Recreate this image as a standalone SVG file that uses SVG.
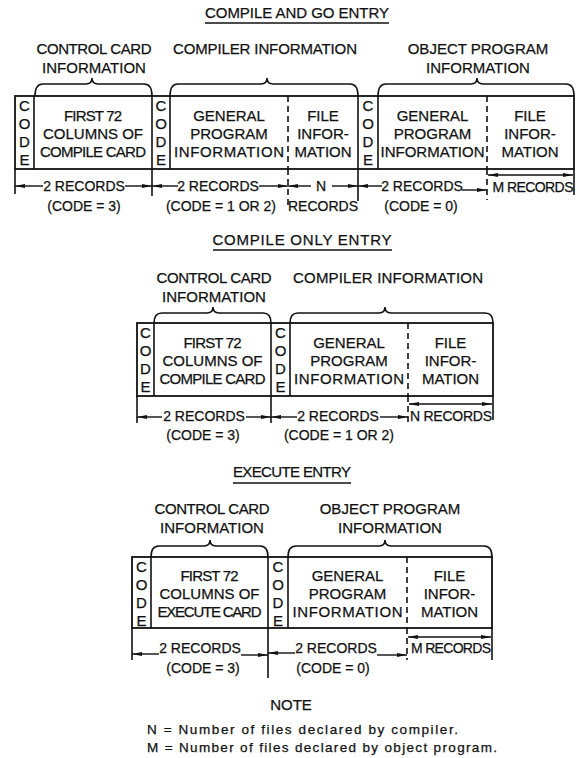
<svg xmlns="http://www.w3.org/2000/svg" width="576" height="758" viewBox="0 0 576 758">
<defs>
<marker id="ah" viewBox="0 0 10 4" refX="10" refY="2" markerWidth="10" markerHeight="4" markerUnits="userSpaceOnUse" orient="auto-start-reverse"><path d="M0,0 L10,2 L0,4 z" fill="#111"/></marker>
</defs>
<style>
text { font-family: "Liberation Sans", Arial, sans-serif; font-size: 15px; fill: #111; stroke: #111; stroke-width: 0.25; text-anchor: middle; }
.dim { font-size: 14px; }
.note { text-anchor: start; font-size: 13.5px; }
.box { fill: none; stroke: #111; stroke-width: 1.8; }
.ln { stroke: #111; stroke-width: 1.6; fill: none; }
.dash { stroke: #111; stroke-width: 1.6; stroke-dasharray: 6 4; fill: none; }
.arr { stroke: #111; stroke-width: 1.4; fill: none; marker-end: url(#ah); }
.dbl { stroke: #111; stroke-width: 1.4; fill: none; marker-start: url(#ah); marker-end: url(#ah); }
.brace { fill: none; stroke: #111; stroke-width: 1.6; }
</style>
<rect width="576" height="758" fill="#fff"/>

<!-- ===== COMPILE AND GO ENTRY ===== -->
<g id="title-compile-go">
<text x="297" y="18" textLength="184">COMPILE AND GO ENTRY</text>
<line class="ln" x1="205" y1="23" x2="389" y2="23"/>
</g>
<g id="cg-control-card">
<text x="94" y="54" textLength="115">CONTROL CARD</text>
<text x="94" y="73">INFORMATION</text>
<path class="brace" d="M35,96 Q35,84 43,84 H86 Q92,84 92,78 Q92,84 98,84 H144 Q152,84 152,96"/>
</g>
<g id="cg-compiler">
<text x="265" y="54" textLength="184">COMPILER INFORMATION</text>
<path class="brace" d="M170,96 Q170,84 178,84 H261 Q267,84 267,78 Q267,84 273,84 H350 Q358,84 358,96"/>
</g>
<g id="cg-object">
<text x="478" y="54">OBJECT PROGRAM</text>
<text x="478" y="73">INFORMATION</text>
<path class="brace" d="M378,96 Q378,84 386,84 H471 Q477,84 477,78 Q477,84 483,84 H566 Q574,84 574,96"/>
</g>
<g id="cg-frame">
<rect class="box" x="15" y="96" width="559" height="73"/>
</g>
<g id="cg-code1">
<line class="ln" x1="34" y1="96" x2="34" y2="169"/>
<text x="24.5" y="111">C</text><text x="24.5" y="129">O</text><text x="24.5" y="147">D</text><text x="24.5" y="165">E</text>
</g>
<g id="cg-first72">
<line class="ln" x1="152" y1="96" x2="152" y2="169"/>
<text x="93" y="121" textLength="58">FIRST 72</text><text x="93" y="139" textLength="100">COLUMNS OF</text><text x="93" y="157" textLength="106">COMPILE CARD</text>
</g>
<g id="cg-code2">
<line class="ln" x1="170" y1="96" x2="170" y2="169"/>
<text x="161" y="111">C</text><text x="161" y="129">O</text><text x="161" y="147">D</text><text x="161" y="165">E</text>
</g>
<g id="cg-general1">
<line class="dash" x1="288" y1="96" x2="288" y2="169"/>
<text x="229" y="121">GENERAL</text><text x="229" y="139">PROGRAM</text><text x="229" y="157" textLength="110">INFORMATION</text>
</g>
<g id="cg-file1">
<line class="ln" x1="358" y1="96" x2="358" y2="169"/>
<text x="323" y="121">FILE</text><text x="323" y="139">INFOR-</text><text x="323" y="157">MATION</text>
</g>
<g id="cg-code3">
<line class="ln" x1="378" y1="96" x2="378" y2="169"/>
<text x="368" y="111">C</text><text x="368" y="129">O</text><text x="368" y="147">D</text><text x="368" y="165">E</text>
</g>
<g id="cg-general2">
<line class="dash" x1="487" y1="96" x2="487" y2="169"/>
<text x="432.5" y="121">GENERAL</text><text x="432.5" y="139">PROGRAM</text><text x="432.5" y="157" textLength="104">INFORMATION</text>
</g>
<g id="cg-file2">
<text x="530" y="121">FILE</text><text x="530" y="139">INFOR-</text><text x="530" y="157">MATION</text>
</g>

<!-- ===== COMPILE ONLY ENTRY ===== -->
<g id="title-compile-only">
<text x="302" y="245" textLength="179">COMPILE ONLY ENTRY</text>
<line class="ln" x1="213" y1="250" x2="392" y2="250"/>
</g>
<g id="co-control-card">
<text x="214" y="283" textLength="115">CONTROL CARD</text>
<text x="214" y="302">INFORMATION</text>
<path class="brace" d="M154,323 Q154,313 162,313 H207 Q213,313 213,307 Q213,313 219,313 H263 Q271,313 271,323"/>
</g>
<g id="co-compiler">
<text x="388" y="283" textLength="190">COMPILER INFORMATION</text>
<path class="brace" d="M290,323 Q290,313 298,313 H379 Q385,313 385,307 Q385,313 391,313 H485 Q493,313 493,323"/>
</g>
<g id="co-frame">
<rect class="box" x="137" y="323" width="356" height="73"/>
</g>
<g id="co-code1">
<line class="ln" x1="154" y1="323" x2="154" y2="396"/>
<text x="145.5" y="338">C</text><text x="145.5" y="356">O</text><text x="145.5" y="374">D</text><text x="145.5" y="392">E</text>
</g>
<g id="co-first72">
<line class="ln" x1="271" y1="323" x2="271" y2="396"/>
<text x="212.5" y="348" textLength="58">FIRST 72</text><text x="212.5" y="366" textLength="100">COLUMNS OF</text><text x="212.5" y="384" textLength="106">COMPILE CARD</text>
</g>
<g id="co-code2">
<line class="ln" x1="290" y1="323" x2="290" y2="396"/>
<text x="280.5" y="338">C</text><text x="280.5" y="356">O</text><text x="280.5" y="374">D</text><text x="280.5" y="392">E</text>
</g>
<g id="co-general">
<line class="dash" x1="408" y1="323" x2="408" y2="396"/>
<text x="349" y="348">GENERAL</text><text x="349" y="366">PROGRAM</text><text x="349" y="384" textLength="110">INFORMATION</text>
</g>
<g id="co-file">
<text x="450.5" y="348">FILE</text><text x="450.5" y="366">INFOR-</text><text x="450.5" y="384">MATION</text>
</g>

<!-- ===== EXECUTE ENTRY ===== -->
<g id="title-execute">
<text x="292" y="477" textLength="118">EXECUTE ENTRY</text>
<line class="ln" x1="233" y1="483" x2="351" y2="483"/>
</g>
<g id="ex-control-card">
<text x="212" y="514" textLength="115">CONTROL CARD</text>
<text x="212" y="533">INFORMATION</text>
<path class="brace" d="M151,557 Q151,546 159,546 H204 Q210,546 210,540 Q210,546 216,546 H260 Q268,546 268,557"/>
</g>
<g id="ex-object">
<text x="390" y="514">OBJECT PROGRAM</text>
<text x="390" y="533">INFORMATION</text>
<path class="brace" d="M288,557 Q288,546 296,546 H379 Q385,546 385,540 Q385,546 391,546 H484 Q492,546 492,557"/>
</g>
<g id="ex-frame">
<rect class="box" x="132" y="557" width="360" height="71"/>
</g>
<g id="ex-code1">
<line class="ln" x1="151" y1="557" x2="151" y2="628"/>
<text x="141.5" y="572">C</text><text x="141.5" y="590">O</text><text x="141.5" y="608">D</text><text x="141.5" y="626">E</text>
</g>
<g id="ex-first72">
<line class="ln" x1="268" y1="557" x2="268" y2="628"/>
<text x="209.5" y="581" textLength="58">FIRST 72</text><text x="209.5" y="599" textLength="100">COLUMNS OF</text><text x="209.5" y="617" textLength="104">EXECUTE CARD</text>
</g>
<g id="ex-code2">
<line class="ln" x1="288" y1="557" x2="288" y2="628"/>
<text x="278" y="572">C</text><text x="278" y="590">O</text><text x="278" y="608">D</text><text x="278" y="626">E</text>
</g>
<g id="ex-general">
<line class="dash" x1="407" y1="557" x2="407" y2="628"/>
<text x="347.5" y="581">GENERAL</text><text x="347.5" y="599">PROGRAM</text><text x="347.5" y="617" textLength="110">INFORMATION</text>
</g>
<g id="ex-file">
<text x="449.5" y="581">FILE</text><text x="449.5" y="599">INFOR-</text><text x="449.5" y="617">MATION</text>
</g>

<!-- ===== dimension connectors ===== -->
<g id="connectors">
<line class="ln" x1="15" y1="169" x2="15" y2="194"/>
<line class="ln" x1="152" y1="169" x2="152" y2="196"/>
<line class="dash" x1="288" y1="169" x2="288" y2="206"/>
<line class="ln" x1="358" y1="169" x2="358" y2="201"/>
<line class="dash" x1="487" y1="169" x2="487" y2="200"/>
<line class="ln" x1="574" y1="169" x2="574" y2="195"/>
<line class="arr" x1="43" y1="186" x2="15" y2="186"/>
<line class="arr" x1="125" y1="186" x2="152" y2="186"/>
<line class="arr" x1="178" y1="186" x2="152" y2="186"/>
<line class="arr" x1="259" y1="186" x2="288" y2="186"/>
<line class="arr" x1="311" y1="186" x2="288" y2="186"/>
<line class="arr" x1="332" y1="186" x2="358" y2="186"/>
<line class="arr" x1="382" y1="186" x2="358" y2="186"/>
<line class="arr" x1="462" y1="190" x2="487" y2="190"/>
<line class="dbl" x1="488" y1="175" x2="573" y2="175"/>
<line class="ln" x1="137" y1="396" x2="137" y2="423"/>
<line class="ln" x1="271" y1="396" x2="271" y2="423"/>
<line class="dash" x1="408" y1="396" x2="408" y2="422"/>
<line class="ln" x1="493" y1="396" x2="493" y2="420"/>
<line class="arr" x1="162" y1="417" x2="137" y2="417"/>
<line class="arr" x1="246" y1="417" x2="271" y2="417"/>
<line class="arr" x1="297" y1="417" x2="271" y2="417"/>
<line class="arr" x1="380" y1="417" x2="408" y2="417"/>
<line class="dbl" x1="409" y1="404" x2="492" y2="404"/>
<line class="ln" x1="132" y1="628" x2="132" y2="660"/>
<line class="ln" x1="268" y1="628" x2="268" y2="678"/>
<line class="dash" x1="407" y1="628" x2="407" y2="660"/>
<line class="ln" x1="492" y1="628" x2="492" y2="660"/>
<line class="arr" x1="159" y1="654" x2="132" y2="654"/>
<line class="arr" x1="241" y1="655" x2="268" y2="655"/>
<line class="arr" x1="295" y1="653" x2="268" y2="653"/>
<line class="arr" x1="377" y1="655" x2="407" y2="655"/>
<line class="dbl" x1="408" y1="637" x2="491" y2="637"/>
</g>

<g id="dimension-labels">
<text class="dim" x="84" y="191">2 RECORDS</text>
<text class="dim" x="84" y="211">(CODE = 3)</text>
<text class="dim" x="218" y="191">2 RECORDS</text>
<text class="dim" x="221" y="211">(CODE = 1 OR 2)</text>
<text class="dim" x="321" y="191">N</text>
<text class="dim" x="323" y="211">RECORDS</text>
<text class="dim" x="422" y="191">2 RECORDS</text>
<text class="dim" x="421" y="211">(CODE = 0)</text>
<text class="dim" x="533" y="192" textLength="81">M RECORDS</text>

<text class="dim" x="204" y="421">2 RECORDS</text>
<text class="dim" x="203" y="440">(CODE = 3)</text>
<text class="dim" x="338" y="421">2 RECORDS</text>
<text class="dim" x="339" y="440">(CODE = 1 OR 2)</text>
<text class="dim" x="451" y="421" textLength="82">N RECORDS</text>

<text class="dim" x="200" y="653">2 RECORDS</text>
<text class="dim" x="203" y="673">(CODE = 3)</text>
<text class="dim" x="336" y="653">2 RECORDS</text>
<text class="dim" x="333" y="673">(CODE = 0)</text>
<text class="dim" x="451" y="653" textLength="80">M RECORDS</text>
</g>

<g id="note">
<text x="291" y="710">NOTE</text>
<text class="note" x="147" y="734" textLength="311">N = Number of files declared by compiler.</text>
<text class="note" x="147" y="752" textLength="350">M = Number of files declared by object program.</text>
</g>
</svg>
